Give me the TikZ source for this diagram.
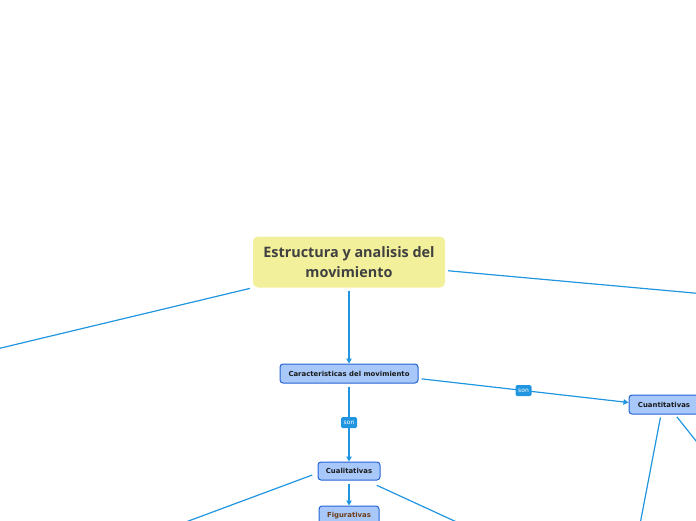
\documentclass[tikz,border=0pt]{standalone}
\usepackage{fontspec}
\setmainfont{DejaVu Sans}
\newfontfamily\rootfont{Open Sans}
\usetikzlibrary{arrows.meta}
\definecolor{linkblue}{HTML}{2196E0}
\definecolor{nodeblue}{HTML}{A8C8FA}
\definecolor{edgeblue}{HTML}{2463D4}
\definecolor{rootyellow}{HTML}{F3F09C}
\tikzset{
    link/.style={draw=linkblue, line width=1.2pt, shorten <=3pt}, % conectores
    linkarrow/.style={link, -{Triangle[length=5pt, width=5.5pt]}},
    topic/.style={draw=edgeblue, fill=nodeblue, line width=1pt, rounded corners=3pt,
        inner sep=0pt, minimum height=19pt, font=\bfseries\fontsize{6.9}{8}\selectfont, text=black!90},
    tag/.style={fill=linkblue, text=white, rounded corners=1.5pt, inner sep=0pt,
        minimum width=16pt, minimum height=11pt, font=\fontsize{6}{7}\selectfont}
}
\begin{document}
\begin{tikzpicture}[x=1pt, y=-1pt]
    \useasboundingbox (0,0) rectangle (696,520);
    \clip (0,0) rectangle (696,520);

    % nodo central
    \node[fill=rootyellow, rounded corners=5pt, minimum width=192pt, minimum height=51pt,
        align=center, text=black!75, font=\rootfont\bfseries\fontsize{14.4}{19.5}\selectfont]
        (root) at (349,262) {Estructura y analisis del\\movimiento};

    \node[topic, minimum width=138pt] (caract) at (349,373.5) {Caracteristicas del movimiento};
    \node[topic, minimum width=62pt, minimum height=18pt] (cualit) at (349,471) {Cualitativas};
    \node[topic, minimum width=60pt, text={rgb,255:red,110;green,60;blue,20}] (figur) at (349,515.5) {Figurativas};
    \node[topic, minimum width=70pt] (cuantit) at (664,404.5) {Cuantitativas};

    % extremos libres fuera del marco
    \coordinate (lfar) at (-20,353);
    \coordinate (rfar) at (716,295);
    \coordinate (cl) at (175,526);
    \coordinate (cr) at (474,530);
    \coordinate (ql) at (637,540);
    \coordinate (qr) at (716,466);

    \draw[link] (root.south west) -- (lfar);
    \draw[link] ([yshift=-8.5pt]root.east) -- (rfar);
    \draw[linkarrow] (root) -- (caract);
    \draw[linkarrow] (caract) -- (cualit) node[midway, tag] {son};
    \draw[linkarrow] ([yshift=-5pt]caract.east) -- ([yshift=2pt]cuantit.west) node[midway, tag] {son};
    \draw[linkarrow] (cualit) -- (figur);
    \draw[link] ([xshift=-34pt, yshift=-3pt]cualit.center) -- (cl);
    \draw[link] ([xshift=25pt, yshift=-13pt]cualit.center) -- (cr);
    \draw[link] ([xshift=-3pt, yshift=-10pt]cuantit.center) -- (ql);
    \draw[link] ([xshift=11pt, yshift=-10pt]cuantit.center) -- (qr);
\end{tikzpicture}
\end{document}
